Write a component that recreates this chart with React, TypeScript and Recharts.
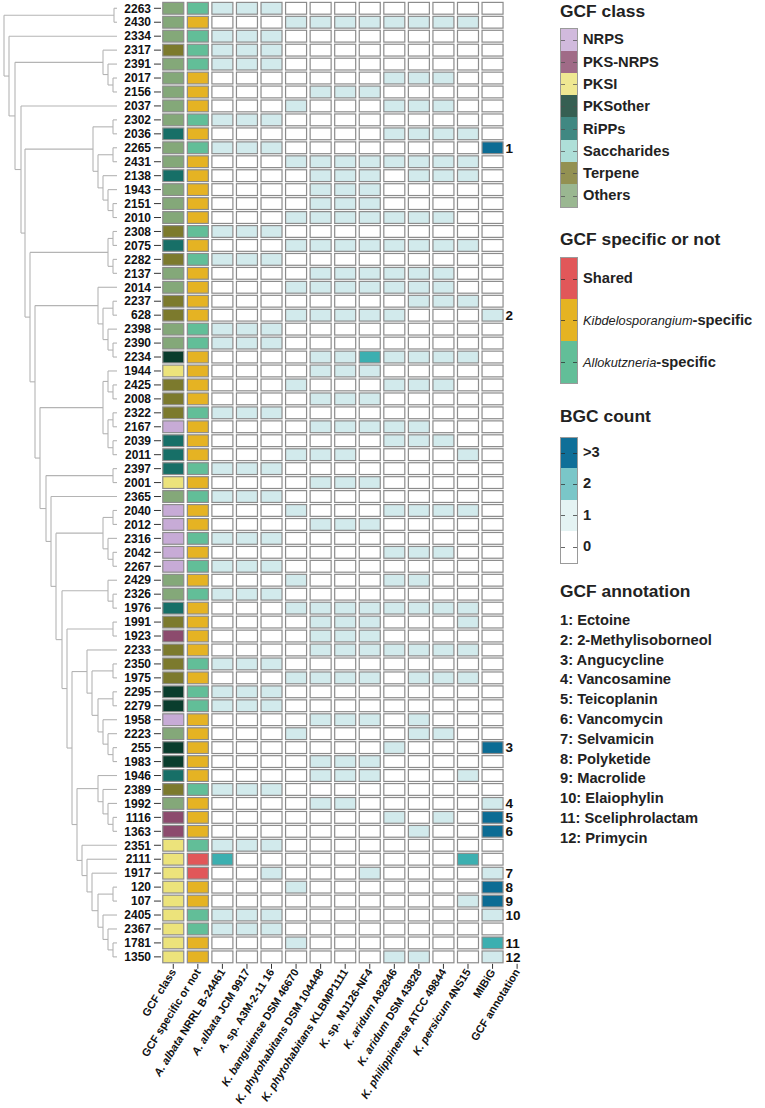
import { ScatterChart, Scatter, XAxis, YAxis, ReferenceLine } from 'recharts';

// rows, top to bottom (dendrogram leaf order)
const rowLabels = [
  '2263', '2430', '2334', '2317', '2391', '2017', '2156', '2037', '2302', '2036',
  '2265', '2431', '2138', '1943', '2151', '2010', '2308', '2075', '2282', '2137',
  '2014', '2237', '628', '2398', '2390', '2234', '1944', '2425', '2008', '2322',
  '2167', '2039', '2011', '2397', '2001', '2365', '2040', '2012', '2316', '2042',
  '2267', '2429', '2326', '1976', '1991', '1923', '2233', '2350', '1975', '2295',
  '2279', '1958', '2223', '255', '1983', '1946', '2389', '1992', '1116', '1363',
  '2351', '2111', '1917', '120', '107', '2405', '2367', '1781', '1350',
];

// GCF class per row: N NRPS, K PKS-NRPS, I PKSI, O PKSother, R RiPPs, S Saccharides, T Terpene, X Others
const gcfClass =
  'XXXTXXXXXR' + 'XXRXXXTRTX' + 'XTTXXOITTT' + 'NRRRIXNNNN' + 'NXXRTKTTTO' + 'ONXOORTXKK' + 'IIIIIIIII';

// S shared, K Kibdelosporangium-specific, A Allokutzneria-specific
const specific =
  'AKAAAKKKAK' + 'AKKKKKAKAK' + 'KKKAAKKKKA' + 'KKKAKAKKAK' + 'AKAKKKKAKA' + 'AKKKKKAKKK' + 'ASSKKAAKK';

// BGC count per row: 11 genomes + MIBiG (0, 1, 2, 3 = >3)
const bgcCounts = [
  '111000000000', '000111111110', '111000000000', '111000000000', '111000000000',
  '000000011100', '000011100000', '000100011100', '111000000000', '000000011110',
  '111000000003', '000111111110', '000011101110', '000011100000', '000011100000',
  '000111111100', '111000000000', '000111111110', '111000000000', '000011111100',
  '000111111100', '000000001110', '000111110001', '111000000000', '111000000000',
  '000011211110', '000011100000', '000100011100', '000011100000', '111000000000',
  '000011111000', '000000011100', '000111000010', '111000000000', '000011100000',
  '111000000000', '000100011110', '000011100000', '111000000000', '000000011100',
  '111000000000', '000100011000', '111000000000', '000111111110', '000011100010',
  '000011100000', '000011111110', '111000000000', '000111101110', '111000000000',
  '111000000000', '000011101000', '000100001100', '000000010003', '000011100000',
  '000011100010', '111000000000', '000011000001', '000000010103', '000000001003',
  '111000000000', '200000000020', '001000100001', '000100000003', '000000000013',
  '111000000001', '111000000000', '000100000002', '000000011001',
];

const annotations: Record<string, number> = {
  '2265': 1, '628': 2, '255': 3, '1992': 4, '1116': 5, '1363': 6,
  '1917': 7, '120': 8, '107': 9, '2405': 10, '1781': 11, '1350': 12,
};
const annotationNames = [
  'Ectoine', '2-Methylisoborneol', 'Angucycline', 'Vancosamine', 'Teicoplanin', 'Vancomycin',
  'Selvamicin', 'Polyketide', 'Macrolide', 'Elaiophylin', 'Sceliphrolactam', 'Primycin',
];

const colLabels = [
  'GCF class', 'GCF specific or not', 'A. albata NRRL B-24461', 'A. albata JCM 9917',
  'A. sp. A3M-2-11 16', 'K. banguiense DSM 46670', 'K. phytohabitans DSM 104448',
  'K. phytohabitans KLBMP1111', 'K. sp. MJ126-NF4', 'K. aridum A82846', 'K. aridum DSM 43828',
  'K. philippinense ATCC 49844', 'K. persicum 4NS15', 'MIBiG', 'GCF annotation',
];

// dendrogram clades: [height, left, right]
type Node = string | [number, Node, Node];
const clade1: Node = [3, '2263', '2430'];
const clade2: Node = [14, '2317', [9, '2391', [4, '2017', '2156']]];
const clade3: Node = [24, [4, '2302', '2036'], [19, [4, '2265', '2431'], [14, '2138', [9, '1943', [4, '2151', '2010']]]]];
const clade4: Node = [9, [4, '2308', '2075'], [4, '2282', '2137']];
const clade5: Node = [19, '2014', [14, [4, '2237', '628'], [9, '2398', [4, '2390', '2234']]]];
const clade6: Node = [14, [9, '1944', [4, '2425', '2008']], [9, [4, '2322', '2167'], [4, '2039', '2011']]];
const clade7: Node = [4, '2397', '2001'];
const clade8: Node = [14, [4, '2040', '2012'], [9, '2316', [4, '2042', '2267']]];
const clade9: Node = [9, '2429', [4, '2326', '1976']];
const clade10: Node = [4, '1991', '1923'];
const clade11: Node = [30, '2233', [25, [4, '2350', '1975'], [19, [4, '2295', '2279'], [14, '1958', [9, '2223', [4, '255', '1983']]]]]];
const clade12: Node = [19, '1946', [14, '2389', [9, '1992', [4, '1116', '1363']]]];
const clade13: Node = [35, '2351', [30, '2111', [25, '1917', [19, [4, '120', '107'], [14, '2405', [9, '2367', [4, '1781', '1350']]]]]]];
const treeRoot: Node = [113, clade1, [108, '2334', [102, clade2, [96, '2037', [92, clade3, [87, clade4,
  [82, clade5, [77, clade6, [71, clade7, [66, '2365', [61, clade8, [55, clade9, [50, clade10,
  [45, clade11, [40, clade12, clade13]]]]]]]]]]]]]]];

const classCodes = 'NKIORSTX';
const classNames = ['NRPS', 'PKS-NRPS', 'PKSI', 'PKSother', 'RiPPs', 'Saccharides', 'Terpene', 'Others'];
const classColors: Record<string, string> = {
  N: '#c7abd6', K: '#8c4b6d', I: '#ece37b', O: '#0a3d2d', R: '#176f67', S: '#9dd9d0', T: '#7c7a2d', X: '#84a879',
};
const specColors: Record<string, string> = { S: '#e15759', K: '#e5b323', A: '#62be98' };
const countColors = ['#ffffff', '#d2eaec', '#3cafb0', '#0c6c94'];
const countLegendColors = ['#0f6f98', '#7ac6c8', '#e4f3f3', '#ffffff'];
const countLegendLabels = ['>3', '2', '1', '0'];

const COL_W = 24.56;
const ROW_H = 13.95;
const CELL_W = 21;
const CELL_H = 11.8;
const PLOT_LEFT = 161;
const PLOT_TOP = 1.3;
const CHART_H = 1108;
const X_AXIS_H = 140;
const N_ROWS = rowLabels.length;
const N_COLS = colLabels.length;
const PLOT_BOTTOM_GAP = CHART_H - PLOT_TOP - N_ROWS * ROW_H - X_AXIS_H;
const TREE_MAX = 113;
const FONT = '"Liberation Sans", Arial, Helvetica, sans-serif';

const cells = rowLabels.flatMap((label, r) => [
  { x: 0, y: r, fill: classColors[gcfClass[r]] },
  { x: 1, y: r, fill: specColors[specific[r]] },
  ...bgcCounts[r].split('').map((c, i) => ({
    x: i + 2,
    y: r,
    fill: countColors[Number(c)],
    ann: i === 11 ? annotations[label] : undefined,
  })),
]);

const segments: number[][] = [];
function layoutTree(node: Node): { y: number; h: number } {
  if (typeof node === 'string') return { y: rowLabels.indexOf(node), h: 0 };
  const [h, a, b] = node;
  const l = layoutTree(a);
  const r = layoutTree(b);
  segments.push([h, l.y, h, r.y]);
  segments.push([l.h, l.y, h, l.y]);
  segments.push([r.h, r.y, h, r.y]);
  return { y: (l.y + r.y) / 2, h };
}
layoutTree(treeRoot);

const rowTicks = rowLabels.map((_, i) => i);
const colTicks = colLabels.map((_, i) => i);

function splitItalic(label: string) {
  const m = label.match(/^([AK]\.) (\S+)(.*)$/);
  if (!m) return [{ t: label, i: false }];
  if (m[2] === 'sp.') return [{ t: m[1], i: true }, { t: ' sp.' + m[3], i: false }];
  return [{ t: m[1] + ' ' + m[2], i: true }, { t: m[3], i: false }];
}

const HeatCell = (props: any) => {
  const { cx, cy, payload } = props;
  return (
    <g>
      <rect
        x={cx - CELL_W / 2}
        y={cy - CELL_H / 2}
        width={CELL_W}
        height={CELL_H}
        fill={payload.fill}
        stroke="#8c8c8c"
        strokeWidth={1.2}
      />
      {payload.ann ? (
        <text x={cx + CELL_W / 2 + 2.5} y={cy} dy="0.36em" fontSize={13.5} fontWeight={700} fill="#111">
          {payload.ann}
        </text>
      ) : null}
    </g>
  );
};

const ColTick = (props: any) => {
  const { x, y, payload } = props;
  const parts = splitItalic(colLabels[payload.value]);
  return (
    <g transform={`translate(${x},${y})`}>
      <text transform="rotate(-58)" textAnchor="end" dy="0.35em" fontSize={11} fontWeight={700} fill="#111">
        {parts.map((p, i) => (
          <tspan key={i} fontStyle={p.i ? 'italic' : 'normal'}>{p.t}</tspan>
        ))}
      </text>
    </g>
  );
};

const Title = ({ top, children }: any) => (
  <div style={{ position: 'absolute', left: 560, top, fontSize: 17.4, lineHeight: '20px', fontWeight: 700, color: '#222', whiteSpace: 'nowrap' }}>
    {children}
  </div>
);

const LegendBar = ({ top, itemH, colors, labels, opacity = 1 }: any) => (
  <>
    <div style={{ position: 'absolute', left: 560, top, width: 18, border: '1px solid #9a9a9a', boxSizing: 'border-box' }}>
      {colors.map((c: string, i: number) => (
        <div key={i} style={{ height: i === 0 ? itemH - 1 : itemH, background: c, opacity, position: 'relative' }}>
          <div style={{ position: 'absolute', left: 0, width: 4, top: '50%', borderTop: '1px solid rgba(40,40,40,0.7)' }} />
          <div style={{ position: 'absolute', right: 0, width: 4, top: '50%', borderTop: '1px solid rgba(40,40,40,0.7)' }} />
        </div>
      ))}
    </div>
    {labels.map((lab: any, i: number) => (
      <div
        key={i}
        style={{ position: 'absolute', left: 583, top: top + i * itemH, height: itemH, lineHeight: `${itemH}px`, fontSize: 14.7, fontWeight: 700, color: '#222', whiteSpace: 'nowrap' }}
      >
        {lab}
      </div>
    ))}
  </>
);

export default function App() {
  return (
    <div style={{ position: 'absolute', left: 0, top: 0, width: 765, height: CHART_H, background: '#fff', fontFamily: FONT, overflow: 'hidden' }}>
      <div style={{ position: 'absolute', left: 0, top: 0 }}>
        <ScatterChart width={120} height={CHART_H} margin={{ top: PLOT_TOP, right: 3, bottom: PLOT_BOTTOM_GAP + X_AXIS_H, left: 4 }}>
          <XAxis type="number" dataKey="x" domain={[0, TREE_MAX]} reversed hide />
          <YAxis type="number" dataKey="y" domain={[-0.5, N_ROWS - 0.5]} reversed hide />
          <Scatter data={rowTicks.map((i) => ({ x: 0, y: i }))} shape={() => <g />} isAnimationActive={false} />
          {segments.map((s, i) => (
            <ReferenceLine
              key={i}
              segment={[{ x: s[0], y: s[1] }, { x: s[2], y: s[3] }]}
              stroke="#b4b4b4"
              strokeWidth={1.1}
              ifOverflow="visible"
            />
          ))}
        </ScatterChart>
      </div>
      <div style={{ position: 'absolute', left: 0, top: 0 }}>
        <ScatterChart
          width={PLOT_LEFT + N_COLS * COL_W + 11}
          height={CHART_H}
          margin={{ top: PLOT_TOP, right: 11, bottom: PLOT_BOTTOM_GAP, left: PLOT_LEFT - 45 }}
        >
          <XAxis
            type="number"
            dataKey="x"
            domain={[-0.5, N_COLS - 0.5]}
            ticks={colTicks}
            interval={0}
            height={X_AXIS_H}
            axisLine={false}
            tickSize={5}
            tickMargin={1}
            tickLine={{ stroke: '#333' }}
            tick={<ColTick />}
          />
          <YAxis
            type="number"
            dataKey="y"
            domain={[-0.5, N_ROWS - 0.5]}
            reversed
            ticks={rowTicks}
            interval={0}
            width={45}
            axisLine={false}
            tickSize={7}
            tickMargin={3}
            tickLine={{ stroke: '#333' }}
            tick={{ fontSize: 12, fontWeight: 700, fill: '#111' }}
            tickFormatter={(v: number) => rowLabels[v]}
          />
          <Scatter data={cells} shape={HeatCell} isAnimationActive={false} />
        </ScatterChart>
      </div>

      <Title top={1.4}>GCF class</Title>
      <LegendBar
        top={28.3}
        itemH={22.3}
        colors={classCodes.split('').map((c) => classColors[c])}
        labels={classNames}
        opacity={0.82}
      />

      <Title top={229.4}>GCF specific or not</Title>
      <LegendBar
        top={257}
        itemH={42}
        colors={[specColors.S, specColors.K, specColors.A]}
        labels={[
          'Shared',
          <span><i style={{ fontWeight: 400, fontSize: 12.8 }}>Kibdelosporangium</i>-specific</span>,
          <span><i style={{ fontWeight: 400, fontSize: 12.8 }}>Allokutzneria</i>-specific</span>,
        ]}
      />

      <Title top={406.4}>BGC count</Title>
      <LegendBar top={436.7} itemH={31.5} colors={countLegendColors} labels={countLegendLabels} />

      <Title top={581.4}>GCF annotation</Title>
      {annotationNames.map((name, i) => (
        <div
          key={name}
          style={{ position: 'absolute', left: 560, top: 610 + i * 19.8, lineHeight: '20px', fontSize: 14.7, fontWeight: 700, color: '#222', whiteSpace: 'nowrap' }}
        >
          {i + 1}: {name}
        </div>
      ))}
    </div>
  );
}
